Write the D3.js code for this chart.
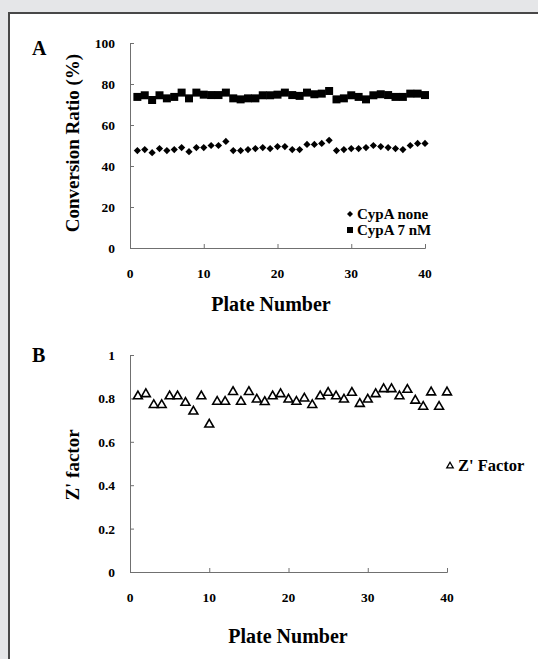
<!DOCTYPE html>
<html>
<head>
<meta charset="utf-8">
<script src="https://cdn.jsdelivr.net/npm/d3@7"></script>
<style>
body { margin: 0; background: #e5e6e8; }
svg { display: block; font-family: "Liberation Serif", "Times New Roman", serif; font-weight: bold; }
</style>
</head>
<body>
<script>
var plates = d3.range(1, 41);
var cypaNone = [47.5, 48, 46.5, 48.5, 47.5, 48, 49, 47, 49, 49, 50, 50, 52,
    47.5, 47.5, 48, 48.5, 49, 48.5, 49.5, 49.5, 48, 48, 50.5, 50.5, 51, 52.5,
    47.5, 48, 48.5, 48.5, 49, 50, 49.5, 49, 48.5, 48, 50, 51, 51];
var cypa7nM = [73.7, 74.5, 72.2, 74.5, 73, 73.7, 75.8, 73, 75.8, 74.8, 74.6, 74.6, 75.8,
    73, 72.5, 73, 73, 74.5, 74.5, 74.8, 75.8, 74.6, 74.2, 75.8, 75, 75.3, 76.6,
    72.5, 73, 74.5, 73.7, 72.5, 74.5, 75, 74.6, 73.7, 73.7, 75.3, 75.3, 74.6];
var zFactor = [0.81, 0.82, 0.77, 0.77, 0.81, 0.81, 0.78, 0.74, 0.81, 0.68,
    0.785, 0.785, 0.83, 0.785, 0.83, 0.795, 0.784, 0.81, 0.82, 0.795,
    0.785, 0.80, 0.77, 0.81, 0.826, 0.81, 0.795, 0.826, 0.775, 0.795,
    0.82, 0.843, 0.843, 0.81, 0.84, 0.79, 0.762, 0.828, 0.762, 0.828];
var xTicks = [0, 10, 20, 30, 40];
var yTicksA = [0, 20, 40, 60, 80, 100];
var yTicksB = [0, 0.2, 0.4, 0.6, 0.8, 1];

var width = 538, height = 659;
var svg = d3.select("body").append("svg").attr("width", width).attr("height", height);

// white frame
svg.append("rect").attr("x", 9).attr("y", 13).attr("width", 600).attr("height", 700)
    .attr("fill", "#fff").attr("stroke", "#484848").attr("stroke-width", 2);

// diamond drawn as a square turned 45 degrees
var diamond = d3.symbol(d3.symbolSquare, 26);

function drawAxes(x, y, yTicks) {
    svg.append("g")
        .attr("transform", "translate(0," + y.range()[0] + ")")
        .call(d3.axisTop(x).tickValues(xTicks).tickSize(4).tickSizeOuter(4).tickFormat(""));
    svg.append("g")
        .attr("transform", "translate(" + x.range()[0] + ",0)")
        .call(d3.axisRight(y).tickValues(yTicks).tickSize(4).tickSizeOuter(4).tickFormat(""));
    svg.selectAll(".domain, .tick line").attr("stroke", "#707070");
    svg.append("g").selectAll("text").data(xTicks).join("text")
        .attr("x", d => x(d)).attr("y", y.range()[0] + 30)
        .attr("text-anchor", "middle").attr("font-size", 13.5).text(d => d);
    svg.append("g").selectAll("text").data(yTicks).join("text")
        .attr("x", x.range()[0] - 15).attr("y", d => y(d) + 5)
        .attr("text-anchor", "end").attr("font-size", 13.5).text(d => d);
}

// panel A
var xA = d3.scaleLinear().domain([0, 40]).range([130, 425]);
var yA = d3.scaleLinear().domain([0, 100]).range([248, 43]);
drawAxes(xA, yA, yTicksA);
svg.append("g").selectAll("path").data(cypa7nM).join("path")
    .attr("transform", (d, i) => "translate(" + xA(plates[i]) + "," + yA(d) + ")")
    .attr("d", d3.symbol(d3.symbolSquare, 64)).attr("fill", "#000");
svg.append("g").selectAll("path").data(cypaNone).join("path")
    .attr("transform", (d, i) => "translate(" + xA(plates[i]) + "," + yA(d) + ") rotate(45)")
    .attr("d", diamond).attr("fill", "#000");
svg.append("text").attr("x", 32).attr("y", 55).attr("font-size", 20).text("A");
svg.append("text").attr("transform", "translate(79,143) rotate(-90)")
    .attr("text-anchor", "middle").attr("font-size", 19).text("Conversion Ratio (%)");
svg.append("text").attr("x", 271).attr("y", 311).attr("text-anchor", "middle")
    .attr("font-size", 20).text("Plate Number");
svg.append("path").attr("transform", "translate(350,214) rotate(45)")
    .attr("d", d3.symbol(d3.symbolSquare, 18)).attr("fill", "#000");
svg.append("text").attr("x", 357).attr("y", 219).attr("font-size", 15).text("CypA none");
svg.append("path").attr("transform", "translate(350,230)")
    .attr("d", d3.symbol(d3.symbolSquare, 36)).attr("fill", "#000");
svg.append("text").attr("x", 357).attr("y", 235).attr("font-size", 15).text("CypA 7 nM");

// panel B
var xB = d3.scaleLinear().domain([0, 40]).range([130, 447]);
var yB = d3.scaleLinear().domain([0, 1]).range([572, 355]);
drawAxes(xB, yB, yTicksB);
svg.append("g").selectAll("path").data(zFactor).join("path")
    .attr("transform", (d, i) => "translate(" + xB(plates[i]) + "," + yB(d) + ")")
    .attr("d", d3.symbol(d3.symbolTriangle, 34)).attr("fill", "none")
    .attr("stroke", "#000").attr("stroke-width", 1.6);
svg.append("text").attr("x", 32).attr("y", 362).attr("font-size", 20).text("B");
svg.append("text").attr("transform", "translate(79,465) rotate(-90)")
    .attr("text-anchor", "middle").attr("font-size", 19).text("Z' factor");
svg.append("text").attr("x", 288).attr("y", 643).attr("text-anchor", "middle")
    .attr("font-size", 20).text("Plate Number");
svg.append("path").attr("transform", "translate(450,466)")
    .attr("d", d3.symbol(d3.symbolTriangle, 18)).attr("fill", "none")
    .attr("stroke", "#000").attr("stroke-width", 1.3);
svg.append("text").attr("x", 458).attr("y", 471).attr("font-size", 16.5).text("Z' Factor");
</script>
</body>
</html>
